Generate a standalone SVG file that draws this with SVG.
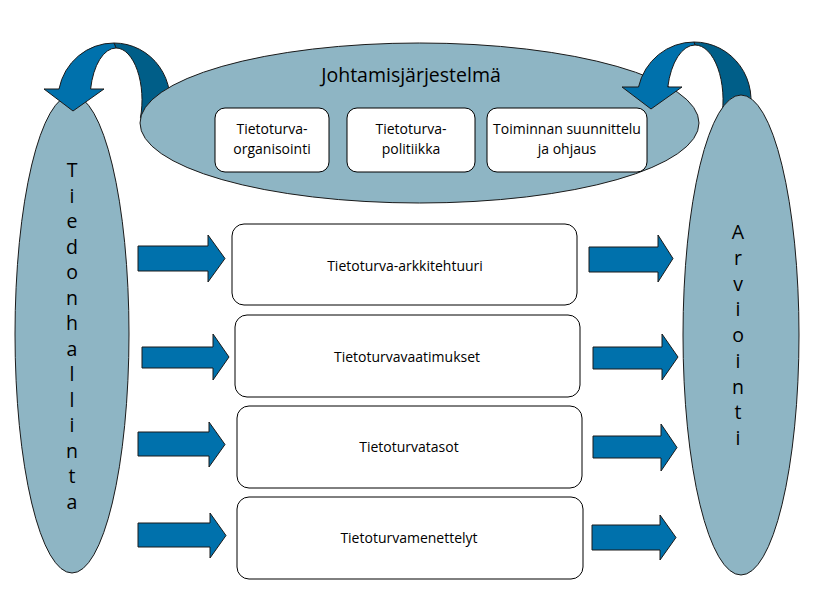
<svg xmlns="http://www.w3.org/2000/svg" width="815" height="609" viewBox="0 0 815 609">
<style>
.ell{fill:#8EB5C4;stroke:#1a1a1a;stroke-width:1}
.box{fill:#ffffff;stroke:#000;stroke-width:1}
.arr{fill:#0071AC;stroke:#1a1a1a;stroke-width:1;stroke-linejoin:miter}
.dark{fill:#005E88;stroke:#1a1a1a;stroke-width:1}
.t{font-family:"Open Sans","DejaVu Sans",sans-serif;font-size:14px;fill:#000;text-anchor:middle}
.big{font-family:"Open Sans","DejaVu Sans",sans-serif;font-size:19.5px;fill:#000;text-anchor:middle}
</style>
<rect width="815" height="609" fill="#ffffff"/>
<g id="connectors-back">
<path class="dark" d="M114,43 A56,57 0 0 1 167.1,118 L140.4,118 A26,52 0 0 0 116,48 Z"/>
<path class="dark" d="M694,42 A57,58 0 0 1 748.2,118 L721.5,118 A28,55 0 0 0 695,45 Z"/>
</g>
<g id="johtamisjarjestelma">
<ellipse class="ell" cx="419.5" cy="123" rx="279.5" ry="80"/>
<text class="big" x="411" y="82">Johtamisjärjestelmä</text>
</g>
<g id="tiedonhallinta">
<ellipse class="ell" cx="72" cy="334" rx="57" ry="239"/>
<text class="big" x="72" y="177"><tspan x="72">T</tspan><tspan x="72" dy="25.5">i</tspan><tspan x="72" dy="25.5">e</tspan><tspan x="72" dy="25.5">d</tspan><tspan x="72" dy="25.5">o</tspan><tspan x="72" dy="25.5">n</tspan><tspan x="72" dy="25.5">h</tspan><tspan x="72" dy="25.5">a</tspan><tspan x="72" dy="25.5">l</tspan><tspan x="72" dy="25.5">l</tspan><tspan x="72" dy="25.5">i</tspan><tspan x="72" dy="25.5">n</tspan><tspan x="72" dy="25.5">t</tspan><tspan x="72" dy="25.5">a</tspan></text>
</g>
<g id="arviointi">
<ellipse class="ell" cx="741" cy="335" rx="58" ry="240"/>
<text class="big" x="738" y="239"><tspan x="738">A</tspan><tspan x="738" dy="25.75">r</tspan><tspan x="738" dy="25.75">v</tspan><tspan x="738" dy="25.75">i</tspan><tspan x="738" dy="25.75">o</tspan><tspan x="738" dy="25.75">i</tspan><tspan x="738" dy="25.75">n</tspan><tspan x="738" dy="25.75">t</tspan><tspan x="738" dy="25.75">i</tspan></text>
</g>
<g id="connectors">
<path class="arr" d="M59,89 A56,57 0 0 1 114,43 L116,48 A26,52 0 0 0 90.6,89 L104,89 L73,111 L44,89 Z"/>
<path class="arr" d="M638.5,87 A57,58 0 0 1 694,42 L695,45 A28,55 0 0 0 667.8,87 L682,87 L651,109 L622,87 Z"/>
<polygon class="arr" points="138,246 208,246 208,235 225,258.5 208,282 208,271 138,271"/>
<polygon class="arr" points="589,247 658,247 658,235 673,258.5 658,282 658,272 589,272"/>
<polygon class="arr" points="142,347 213,347 213,334 229,357 213,380 213,368 142,368"/>
<polygon class="arr" points="593,347 662,347 662,334 678,357 662,380 662,369 593,369"/>
<polygon class="arr" points="138,432 209,432 209,422 225,444.5 209,467 209,456 138,456"/>
<polygon class="arr" points="593,436 661,436 661,424 677,447.5 661,471 661,458 593,458"/>
<polygon class="arr" points="138,523 210,523 210,513 226,535.5 210,558 210,547 138,547"/>
<polygon class="arr" points="592,525 660,525 660,515 676,537.5 660,560 660,550 592,550"/>
</g>
<g id="tietoturva-organisointi">
<rect class="box" x="215" y="108" width="114" height="64" rx="10"/>
<text class="t" x="272" y="134">Tietoturva-</text>
<text class="t" x="272" y="154">organisointi</text>
</g>
<g id="tietoturva-politiikka">
<rect class="box" x="347" y="108" width="128" height="64" rx="10"/>
<text class="t" x="411" y="134">Tietoturva-</text>
<text class="t" x="411" y="154">politiikka</text>
</g>
<g id="toiminnan-suunnittelu">
<rect class="box" x="487" y="108" width="160" height="64" rx="10"/>
<text class="t" x="567" y="134">Toiminnan suunnittelu</text>
<text class="t" x="567" y="154">ja ohjaus</text>
</g>
<g id="tietoturva-arkkitehtuuri">
<rect class="box" x="232" y="224" width="345" height="81" rx="12"/>
<text class="t" x="405" y="271">Tietoturva-arkkitehtuuri</text>
</g>
<g id="tietoturvavaatimukset">
<rect class="box" x="235" y="315" width="345" height="82" rx="12"/>
<text class="t" x="407" y="362">Tietoturvavaatimukset</text>
</g>
<g id="tietoturvatasot">
<rect class="box" x="237" y="406" width="345" height="82" rx="12"/>
<text class="t" x="409" y="452">Tietoturvatasot</text>
</g>
<g id="tietoturvamenettelyt">
<rect class="box" x="237" y="497" width="346" height="82" rx="12"/>
<text class="t" x="409" y="543">Tietoturvamenettelyt</text>
</g>
</svg>
